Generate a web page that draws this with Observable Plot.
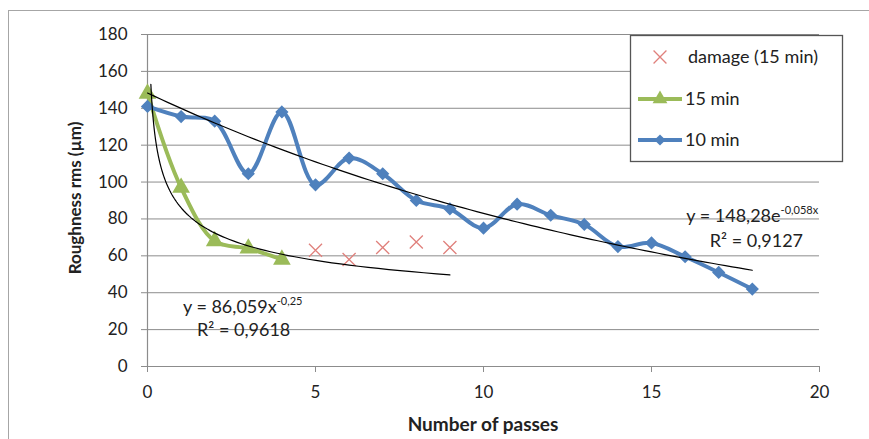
<!DOCTYPE html>
<html>
<head>
<meta charset="utf-8">
<script src="https://cdn.jsdelivr.net/npm/d3@7"></script>
<script src="https://cdn.jsdelivr.net/npm/@observablehq/plot@0.6"></script>
<style>
  html, body { margin: 0; padding: 0; background: #fff; }
  #wrap { position: relative; width: 869px; height: 439px; overflow: hidden; }
  #frame { position: absolute; left: 8px; top: 10px; width: 900px; height: 500px;
           border-left: 1.5px solid #a6a6a6; border-top: 1.5px solid #a6a6a6; }
  #chart { position: absolute; left: 0; top: 0; }
</style>
</head>
<body>
<div id="wrap"><div id="frame"></div><div id="chart"></div></div>
<script>
// ---- data ----
const passes10 = [0, 1, 2, 3, 4, 5, 6, 7, 8, 9, 10, 11, 12, 13, 14, 15, 16, 17, 18];
const rough10  = [141, 135.5, 133, 104.5, 138, 98.5, 113, 104.5, 90, 85.5, 75, 88, 82, 77, 65, 67, 59.5, 51, 42];
const passes15 = [0, 1, 2, 3, 4];
const rough15  = [148, 97, 68, 64, 58];
const passesDamage = [5, 6, 7, 8, 9];
const roughDamage  = [63, 58, 64.5, 67.5, 64.5];
const xTicks = [0, 5, 10, 15, 20];
const yTicks = [0, 20, 40, 60, 80, 100, 120, 140, 160, 180];
// trend-line fits as printed on the chart
const expFit = [148.28, -0.058];   // y = a e^(b x), x in [0, 18]
const powFit = [86.059, -0.25];    // y = a x^b,   x in [0.1, 9]
const legendLabels = ["damage (15 min)", "15 min", "10 min"];

const blue = "#4f81bd", green = "#9bbb59", red = "#e0807c", grid = "#8c8c8c", ink = "#222";
const FONT = "Lato, 'Open Sans', sans-serif";

const s10 = passes10.map((x, i) => ({x, y: rough10[i]}));
const s15 = passes15.map((x, i) => ({x, y: rough15[i]}));
const sDm = passesDamage.map((x, i) => ({x, y: roughDamage[i]}));
const expTrend = d3.range(0, 18.0001, 0.2).map(x => ({x, y: expFit[0] * Math.exp(expFit[1] * x)}));
const powTrend = d3.range(0, 1.0001, 0.01).map(t => 0.1 * Math.pow(90, t)).map(x => ({x, y: powFit[0] * Math.pow(x, powFit[1])}));

const plot = Plot.plot({
  width: 869, height: 439,
  marginLeft: 147, marginRight: 50, marginTop: 34, marginBottom: 73,
  style: {fontFamily: FONT, fontSize: "17px", color: ink, background: "transparent", overflow: "visible"},
  x: {domain: [0, 20]},
  y: {domain: [0, 180]},
  marks: [
    Plot.ruleY(yTicks.slice(1), {stroke: grid, strokeWidth: 1}),
    Plot.ruleY([0], {stroke: grid, strokeWidth: 1.2}),
    Plot.ruleX([0], {stroke: grid, strokeWidth: 1.2}),
    Plot.axisY({ticks: yTicks, tickSize: 6, tickPadding: 14, label: null, stroke: grid, fontSize: 17}),
    Plot.axisX({ticks: xTicks, tickSize: 6, tickPadding: 13, label: null, stroke: grid, fontSize: 17}),
    Plot.line(s15, {x: "x", y: "y", stroke: green, strokeWidth: 4, curve: "catmull-rom"}),
    Plot.dot(s15, {x: "x", y: "y", symbol: "triangle", r: 5.6, fill: green, stroke: green}),
    Plot.line(s10, {x: "x", y: "y", stroke: blue, strokeWidth: 4, curve: "catmull-rom"}),
    Plot.dot(s10, {x: "x", y: "y", symbol: "diamond2", r: 5, fill: blue, stroke: blue}),
    Plot.dot(sDm, {x: "x", y: "y", symbol: "times", r: 6, stroke: red, strokeWidth: 1.3, fill: "none"}),
    Plot.line(expTrend, {x: "x", y: "y", stroke: "#000", strokeWidth: 1.2}),
    Plot.line(powTrend, {x: "x", y: "y", stroke: "#000", strokeWidth: 1.2})
  ]
});
document.getElementById("chart").appendChild(plot);

const sx = plot.scale("x"), sy = plot.scale("y");
const svg = d3.select(plot);
const X = v => sx.apply(v), Y = v => sy.apply(v);

// trend equations
function equation(x, y, base, sup) {
  const t = svg.append("text").attr("x", X(x)).attr("y", Y(y)).attr("text-anchor", "start")
    .attr("font-family", FONT).attr("font-size", 18).attr("fill", ink);
  t.append("tspan").text(base);
  if (sup) t.append("tspan").attr("dy", -8).attr("font-size", 11).text(sup);
}
equation(16.05, 78, "y = 148,28e", "-0,058x");
equation(16.75, 64.3, "R\u00b2 = 0,9127");
equation(1.07, 28.5, "y = 86,059x", "-0,25");
equation(1.49, 16.5, "R\u00b2 = 0,9618");

// axis titles
svg.append("text").attr("x", 483).attr("y", 431).attr("text-anchor", "middle")
  .attr("font-family", FONT).attr("font-weight", "bold").attr("font-size", 19).attr("fill", ink)
  .text("Number of passes");
svg.append("text").attr("transform", "translate(81,198) rotate(-90)").attr("text-anchor", "middle")
  .attr("font-family", FONT).attr("font-weight", "bold").attr("font-size", 17).attr("fill", ink)
  .text("Roughness rms (\u00b5m)");

// legend
const lg = svg.append("g");
lg.append("rect").attr("x", 630.5).attr("y", 35.5).attr("width", 212).attr("height", 126)
  .attr("fill", "#fff").attr("stroke", "#555").attr("stroke-width", 1.3);
const rows = [57, 99, 140];
const sym = d3.symbol();
// damage
lg.append("path").attr("transform", `translate(660,${rows[0]})`)
  .attr("d", sym.type(d3.symbolTimes).size(110)()).attr("stroke", red).attr("stroke-width", 1.3).attr("fill", "none");
// 15 min
lg.append("line").attr("x1", 638).attr("x2", 682).attr("y1", rows[1]).attr("y2", rows[1]).attr("stroke", green).attr("stroke-width", 4);
lg.append("path").attr("transform", `translate(660,${rows[1]})`)
  .attr("d", sym.type(d3.symbolTriangle).size(95)()).attr("fill", green);
// 10 min
lg.append("line").attr("x1", 638).attr("x2", 682).attr("y1", rows[2]).attr("y2", rows[2]).attr("stroke", blue).attr("stroke-width", 4);
lg.append("path").attr("transform", `translate(660,${rows[2]})`)
  .attr("d", sym.type(d3.symbolDiamond2).size(80)()).attr("fill", blue);
legendLabels.forEach((lab, i) => {
  lg.append("text").attr("x", i === 0 ? 688 : 685).attr("y", rows[i]).attr("dy", "0.35em")
    .attr("text-anchor", "start")
    .attr("font-family", FONT).attr("font-size", 18).attr("fill", ink).text(lab);
});
</script>
</body>
</html>
